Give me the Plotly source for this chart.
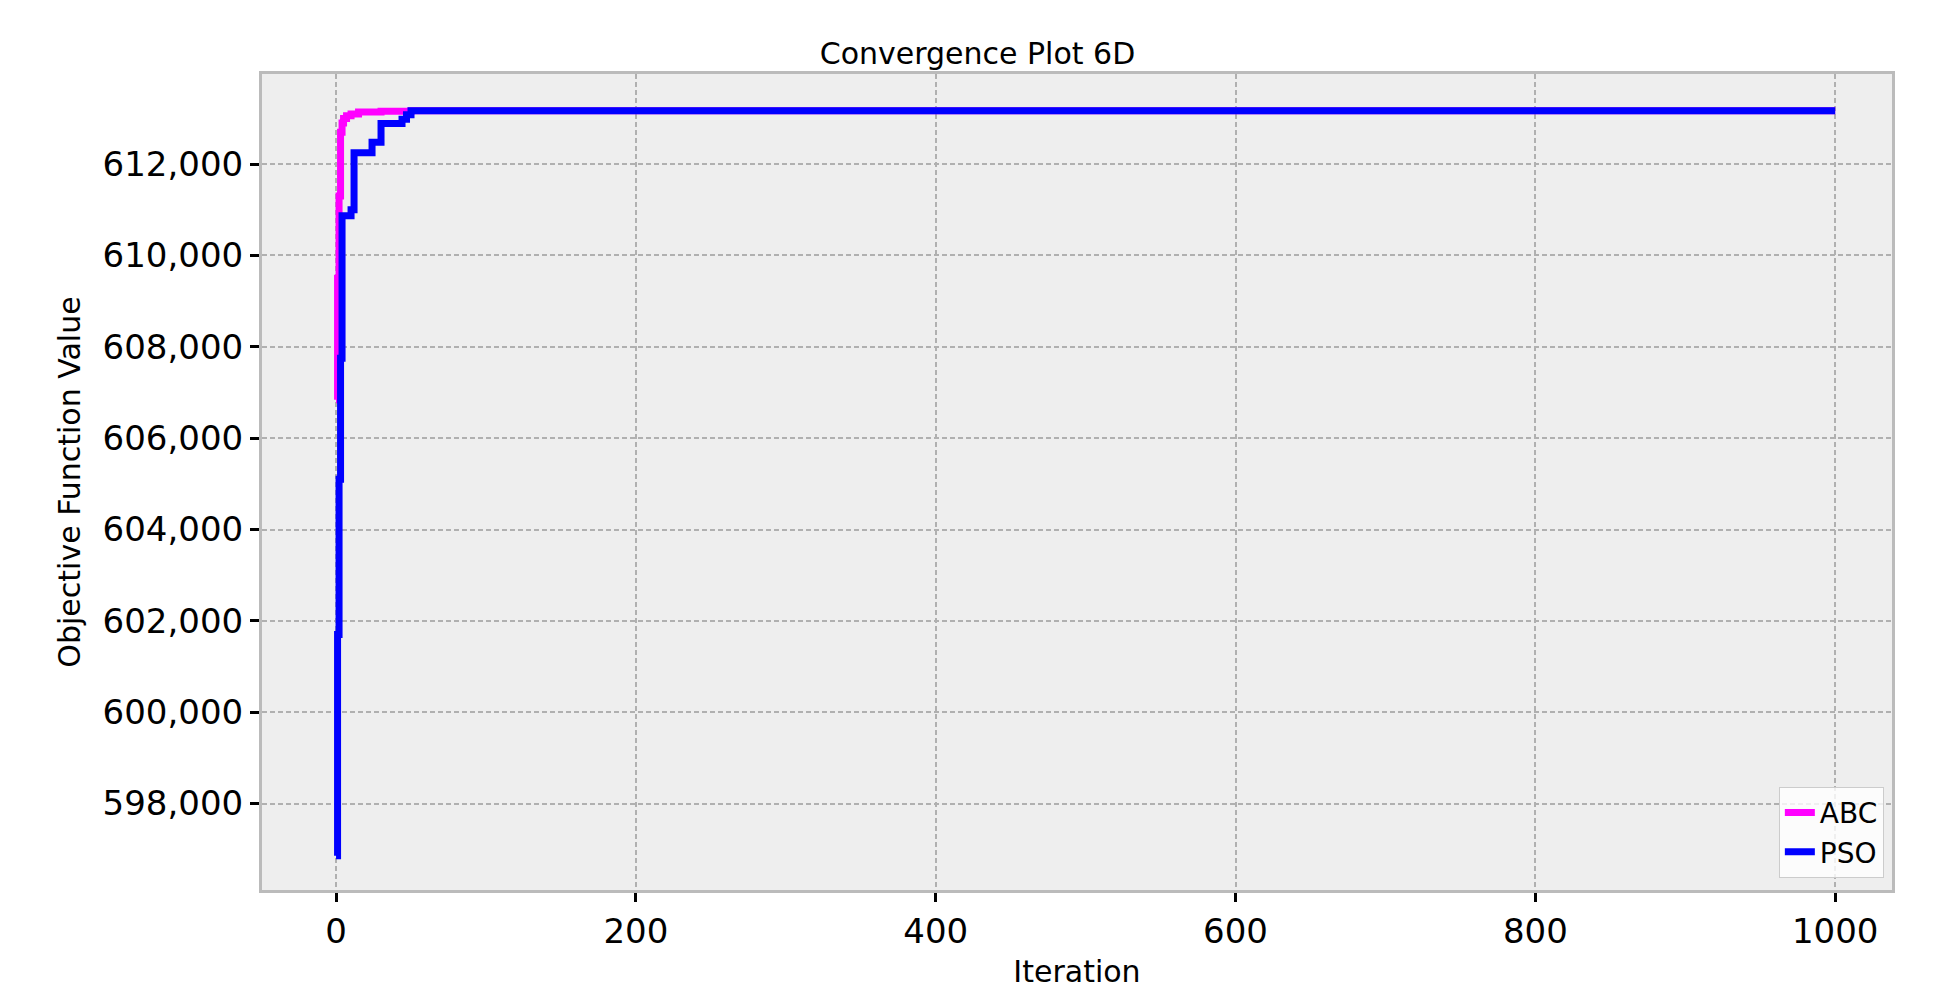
import plotly.graph_objects as go

abc_iter = [0, 1, 2, 3, 4, 5, 7, 10, 15, 30, 50, 1000]
abc_val = [606840, 609500, 611300, 612700, 612900, 613000, 613060, 613100, 613140, 613160, 613170, 613170]

pso_iter = [0, 1, 2, 3, 4, 10, 12, 24, 30, 44, 47, 50, 1000]
pso_val = [596860, 601700, 605100, 607750, 610870, 611000, 612250, 612480, 612890, 612980, 613080, 613170, 613170]

fig = go.Figure()
fig.add_trace(go.Scatter(x=abc_iter, y=abc_val, mode="lines", name="ABC",
                         line=dict(color="#ff00ff", width=7, shape="hv")))
fig.add_trace(go.Scatter(x=pso_iter, y=pso_val, mode="lines", name="PSO",
                         line=dict(color="#0000ff", width=7, shape="hv")))

axis_common = dict(showline=True, linecolor="#bbbbbb", linewidth=3, mirror=True,
                   showgrid=True, gridcolor="#b0b0b0", griddash="5px,3px", gridwidth=1.5,
                   ticks="outside", ticklen=9, tickwidth=3, tickcolor="black",
                   zeroline=False, tickfont=dict(size=34, color="black", family="DejaVu Sans"))
fig.update_xaxes(range=[-49.4, 1037.9], tickvals=[0, 200, 400, 600, 800, 1000],
                 title=dict(text="Iteration", standoff=12,
                            font=dict(size=30, color="black", family="DejaVu Sans")),
                 **axis_common)
fig.update_yaxes(range=[596108, 613973], tickvals=list(range(598000, 613000, 2000)),
                 tickformat=",d",
                 title=dict(text="Objective Function Value", standoff=14,
                            font=dict(size=30, color="black", family="DejaVu Sans")),
                 **axis_common)
fig.update_layout(
    width=1939, height=1004,
    plot_bgcolor="#eeeeee", paper_bgcolor="white",
    title=dict(text="Convergence Plot 6D", x=0.5, xanchor="center", y=0.965,
               font=dict(size=30, color="black", family="DejaVu Sans")),
    margin=dict(l=254, r=55, t=66, b=122),
    font=dict(family="DejaVu Sans"),
    legend=dict(x=0.995, y=0.015, xanchor="right", yanchor="bottom",
                bgcolor="rgba(255,255,255,0.8)", bordercolor="#cccccc", borderwidth=1,
                font=dict(size=28, color="black")),
)
fig.write_html("out.html")
